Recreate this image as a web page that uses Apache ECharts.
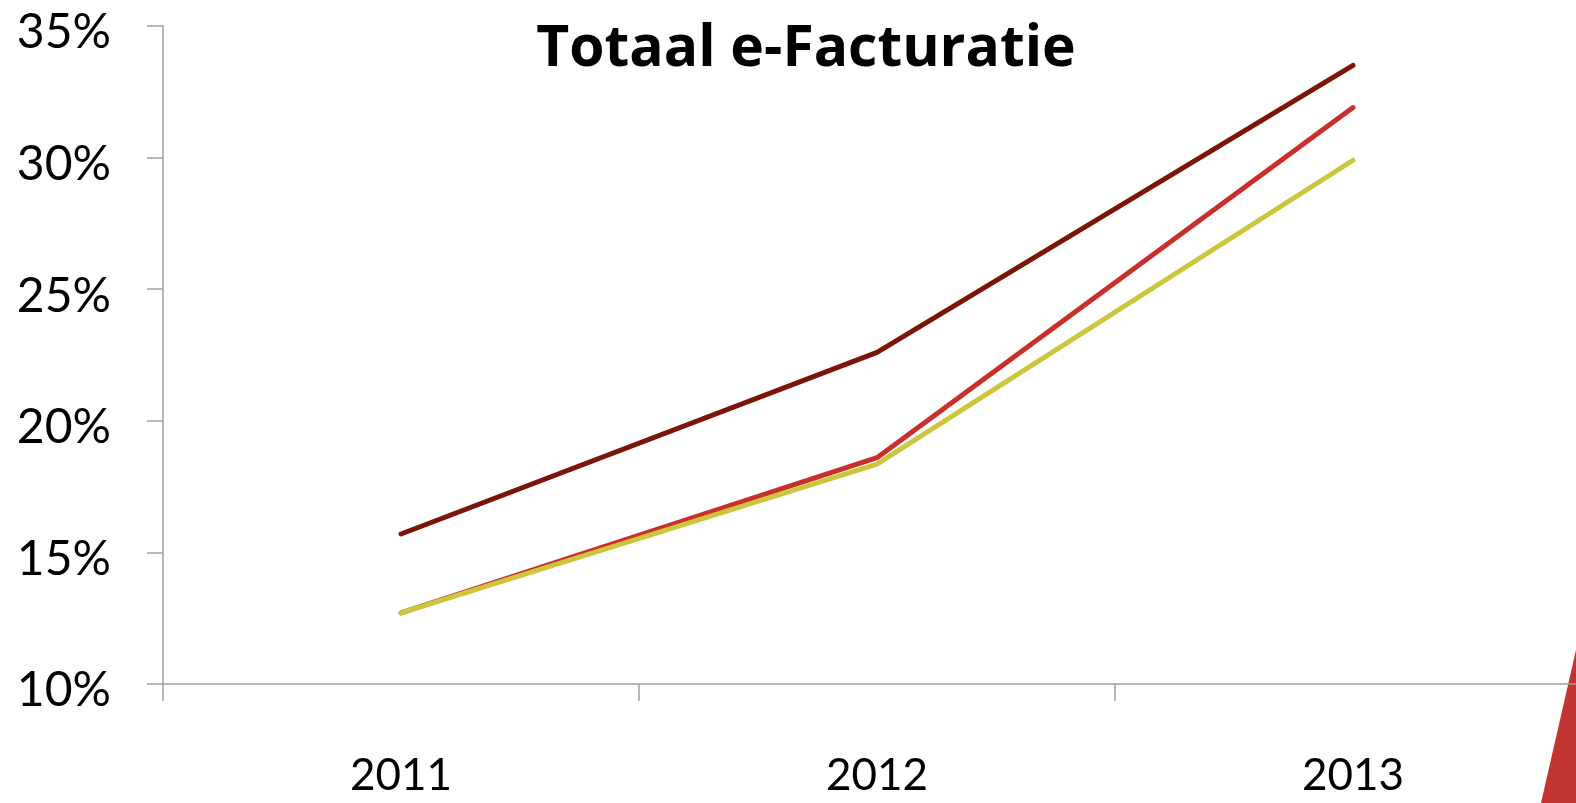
<!DOCTYPE html>
<html><head><meta charset="utf-8">
<script src="https://cdn.jsdelivr.net/npm/echarts@6/dist/echarts.min.js"></script>
<style>html,body{margin:0;padding:0;background:#fff;overflow:hidden;width:1576px;height:803px}#c{width:1600px;height:803px}</style>
</head><body><div id="c"></div>
<script>
const categories = ['2011', '2012', '2013'];
const seriesA = [15.7, 22.6, 33.5];
const seriesB = [12.7, 18.6, 31.9];
const seriesC = [12.7, 18.35, 29.9];
const yTicks = [10, 15, 20, 25, 30, 35];

const chart = echarts.init(document.getElementById('c'));
const mk = (data, color) => ({
  type: 'line', data, symbol: 'none', smooth: false,
  lineStyle: { color, width: 5, cap: 'round' }
});
chart.setOption({
  animation: false,
  title: { text: 'Totaal e-Facturatie', left: 801, textAlign: 'center', top: 16,
    textStyle: { fontFamily: 'Open Sans', fontWeight: 'bold', fontSize: 57, color: '#000' } },
  grid: { left: 163, top: 26, right: 9, height: 658 },
  xAxis: { type: 'category', data: categories, boundaryGap: true,
    axisLine: { lineStyle: { color: '#a0a0a0', width: 1.5 } },
    axisTick: { show: true, length: 17, alignWithLabel: false, lineStyle: { color: '#a0a0a0', width: 1.5 } },
    axisLabel: { margin: 70, fontFamily: 'Lato', fontSize: 44, color: '#000' } },
  yAxis: { type: 'value', min: 10, max: 35, interval: 5,
    splitLine: { show: false },
    axisLine: { show: true, lineStyle: { color: '#a0a0a0', width: 1.5 } },
    axisTick: { show: true, length: 16, lineStyle: { color: '#a0a0a0', width: 1.5 } },
    axisLabel: { margin: 52, color: '#000',
      formatter: v => yTicks.includes(v) ? '{a|' + v + '%}' : '',
      rich: { a: { fontFamily: 'Lato', fontSize: 48, color: '#000', padding: [14, 0, 0, 0] } } } },
  series: [mk(seriesA, '#7d1408'), mk(seriesB, '#c9302c'), mk(seriesC, '#cdc63c')],
  graphic: [{ type: 'polygon', shape: { points: [[1576, 650], [1576, 803], [1541, 803]] },
    style: { fill: '#c3332f' }, silent: true }]
});
</script></body></html>
